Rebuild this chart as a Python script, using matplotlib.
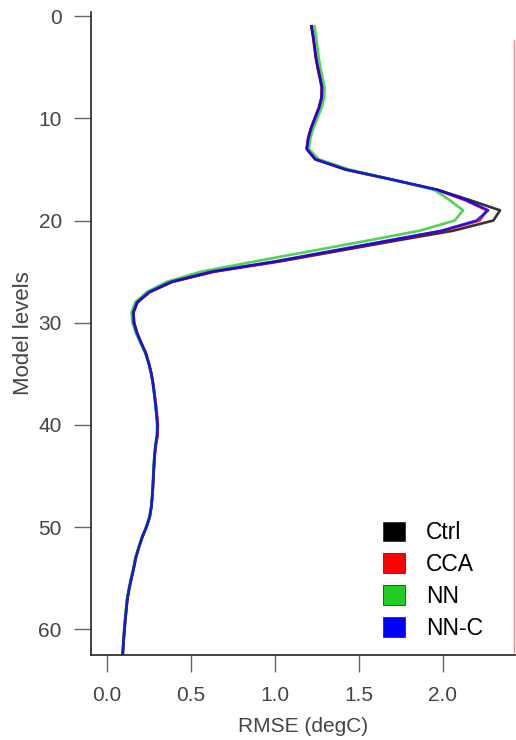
import numpy as np
import matplotlib
matplotlib.use('Agg')
import matplotlib.pyplot as plt
from matplotlib.patches import Patch
from matplotlib.lines import Line2D

plt.rcParams['font.family'] = ['Liberation Sans', 'DejaVu Sans']

# RMSE profiles per model level (1 = top)
levels = np.arange(1, 64)

ctrl = [1.218, 1.228, 1.236, 1.244, 1.255, 1.268, 1.280, 1.278, 1.262, 1.238,
        1.215, 1.198, 1.190, 1.240, 1.420, 1.700, 1.970, 2.160, 2.340, 2.300,
        2.060, 1.710, 1.370, 1.030, 0.640, 0.390, 0.255, 0.182, 0.158, 0.162,
        0.180, 0.205, 0.232, 0.250, 0.265, 0.275, 0.283, 0.290, 0.296, 0.302,
        0.300, 0.290, 0.284, 0.280, 0.277, 0.274, 0.270, 0.265, 0.255, 0.235,
        0.210, 0.190, 0.172, 0.160, 0.146, 0.133, 0.122, 0.116, 0.110, 0.105,
        0.100, 0.096, 0.093]

cca = [1.216, 1.226, 1.234, 1.242, 1.253, 1.266, 1.278, 1.276, 1.260, 1.236,
       1.213, 1.196, 1.188, 1.238, 1.418, 1.695, 1.965, 2.130, 2.260, 2.220,
       2.000, 1.670, 1.340, 1.010, 0.630, 0.385, 0.252, 0.180, 0.157, 0.161,
       0.179, 0.205, 0.232, 0.250, 0.265, 0.276, 0.284, 0.292, 0.298, 0.304,
       0.302, 0.291, 0.285, 0.281, 0.277, 0.274, 0.270, 0.264, 0.254, 0.234,
       0.209, 0.189, 0.171, 0.159, 0.145, 0.132, 0.121, 0.115, 0.109, 0.104,
       0.099, 0.095, 0.092]

nn = [1.235, 1.245, 1.252, 1.260, 1.270, 1.283, 1.295, 1.293, 1.277, 1.252,
      1.228, 1.210, 1.202, 1.260, 1.440, 1.700, 1.950, 2.040, 2.120, 2.070,
      1.860, 1.540, 1.210, 0.880, 0.560, 0.355, 0.237, 0.168, 0.146, 0.152,
      0.172, 0.200, 0.228, 0.248, 0.263, 0.273, 0.281, 0.288, 0.294, 0.299,
      0.297, 0.288, 0.282, 0.278, 0.275, 0.272, 0.268, 0.263, 0.252, 0.232,
      0.207, 0.187, 0.169, 0.157, 0.143, 0.130, 0.119, 0.113, 0.107, 0.102,
      0.098, 0.094, 0.091]

nn_c = [1.218, 1.228, 1.236, 1.244, 1.255, 1.268, 1.280, 1.278, 1.262, 1.238,
        1.215, 1.198, 1.190, 1.240, 1.420, 1.700, 1.968, 2.140, 2.270, 2.200,
        1.990, 1.660, 1.330, 1.000, 0.620, 0.380, 0.250, 0.179, 0.156, 0.160,
        0.178, 0.204, 0.231, 0.249, 0.264, 0.274, 0.282, 0.289, 0.295, 0.300,
        0.298, 0.289, 0.283, 0.279, 0.276, 0.273, 0.269, 0.264, 0.254, 0.234,
        0.209, 0.189, 0.171, 0.159, 0.145, 0.132, 0.121, 0.115, 0.109, 0.104,
        0.099, 0.095, 0.092]

names = ["Ctrl", "CCA", "NN", "NN-C"]
colors = ["black", "#ff0000", "#22cc22", "#0000ff"]
series = [ctrl, cca, nn, nn_c]

fig = plt.figure(figsize=(5.16, 7.40), dpi=100)
ax = fig.add_axes([91/516, 85/740, 425/516, 643/740])

for vals, col in zip(series, colors):
    ax.plot(vals, levels, color=col, linewidth=1.9, alpha=0.8,
            solid_joinstyle="round")

ax.set_xlim(-0.095, 2.435)
ax.set_ylim(62.5, -0.4)
ax.set_xticks([0.0, 0.5, 1.0, 1.5, 2.0])
ax.set_xticklabels(["0.0", "0.5", "1.0", "1.5", "2.0"])
ax.set_yticks([0, 10, 20, 30, 40, 50, 60])

for s in ["top", "right"]:
    ax.spines[s].set_visible(False)
for s in ["left", "bottom"]:
    ax.spines[s].set_linewidth(1.2)
    ax.spines[s].set_color("#222222")

ax.tick_params(axis="both", direction="out", length=12, width=1.0,
               color="#666666", labelcolor="#444444", labelsize=15)
ax.tick_params(axis="x", pad=10)
ax.tick_params(axis="y", pad=9)

ax.set_xlabel("RMSE (degC)", fontsize=15, color="#444444", labelpad=9)
ax.set_ylabel("Model levels", fontsize=16, color="#444444", labelpad=3)

handles = [Patch(facecolor=c, edgecolor="#333333", linewidth=0.6) for c in colors]
ax.legend(handles, names, loc="lower right", frameon=False, fontsize=16.5,
          handlelength=0.95, handleheight=0.95, handletextpad=0.9,
          labelspacing=0.38, bbox_to_anchor=(0.97, -0.008))

# thin red border line on the right side of the panel
fig.add_artist(Line2D([514/516, 514/516], [1 - 40/740, 1 - 652/740],
                      color="#ee8888", linewidth=1.0))

fig.savefig("out.png", dpi=100)
